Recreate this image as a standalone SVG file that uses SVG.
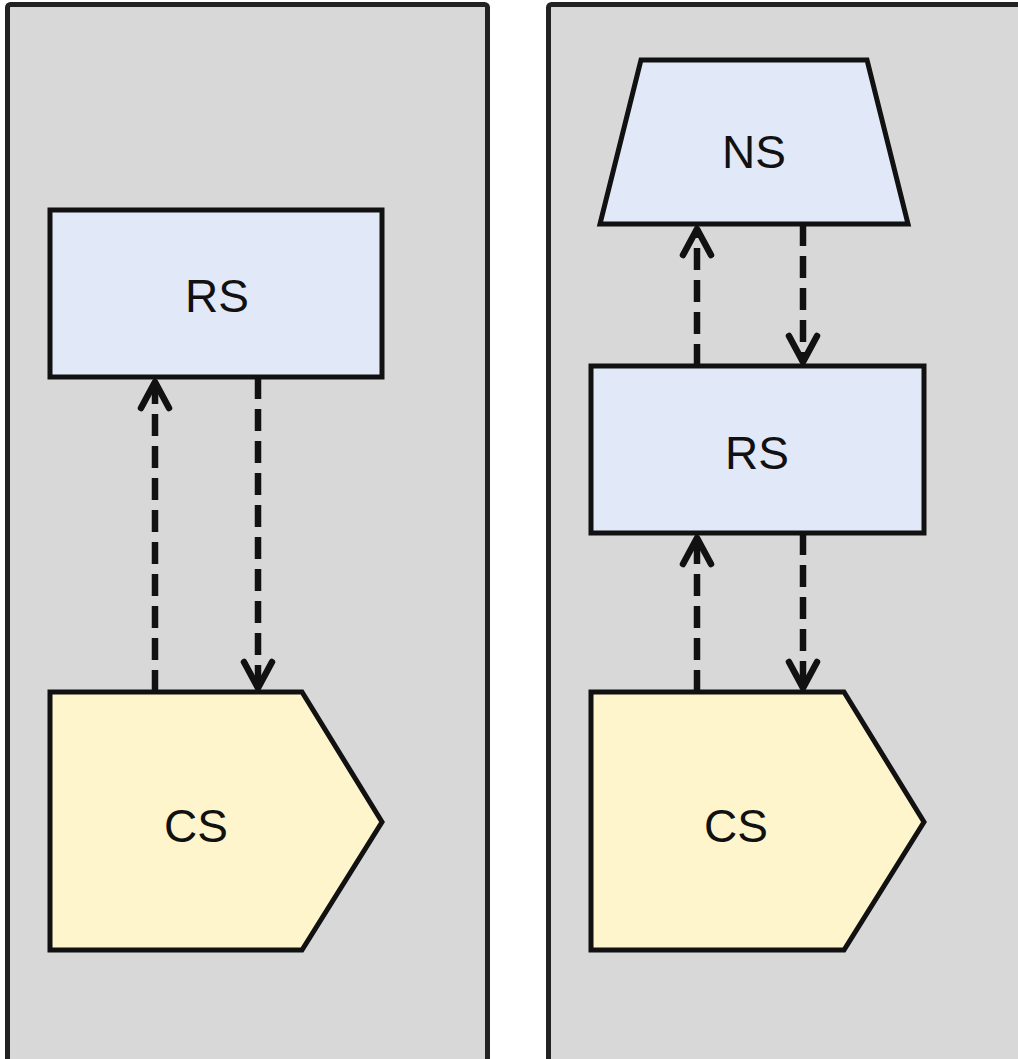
<svg xmlns="http://www.w3.org/2000/svg" width="1018" height="1059" viewBox="0 0 1018 1059">
<style>
.panel{fill:#d8d8d8;stroke:#222;stroke-width:5}
.blue{fill:#e1e8f8;stroke:#111;stroke-width:5;stroke-linejoin:miter}
.yellow{fill:#fef5cd;stroke:#111;stroke-width:5;stroke-linejoin:miter}
.lbl{font-family:"Liberation Sans",Arial,sans-serif;font-size:46px;fill:#111;text-anchor:middle}
.conn{stroke:#111;stroke-width:6.5;fill:none;stroke-dasharray:22 10}
.head{stroke:#111;stroke-width:6.5;fill:none;stroke-linecap:round;stroke-linejoin:round}
</style>
<rect width="1018" height="1059" fill="#ffffff"/>
<g id="panel-left"><rect class="panel" x="7.5" y="4.5" width="480" height="1080" rx="3"/></g>
<g id="panel-right"><rect class="panel" x="548.5" y="4.5" width="480" height="1080" rx="3"/></g>

<g id="connectors">
  <line class="conn" x1="155" y1="692" x2="155" y2="384"/>
  <polyline class="head" points="141,408 155,382 169,408"/>
  <line class="conn" x1="258" y1="377" x2="258" y2="686"/>
  <polyline class="head" points="244,662 258,688 272,662"/>

  <line class="conn" x1="697" y1="366" x2="697" y2="231"/>
  <polyline class="head" points="683,255 697,229 711,255"/>
  <line class="conn" x1="803" y1="224" x2="803" y2="360"/>
  <polyline class="head" points="789,336 803,362 817,336"/>

  <line class="conn" x1="697" y1="692" x2="697" y2="540"/>
  <polyline class="head" points="683,564 697,538 711,564"/>
  <line class="conn" x1="803" y1="533" x2="803" y2="686"/>
  <polyline class="head" points="789,662 803,688 817,662"/>
</g>

<g id="rs-left">
  <rect class="blue" x="50" y="210" width="332" height="167"/>
  <text class="lbl" x="217" y="312">RS</text>
</g>
<g id="cs-left">
  <polygon class="yellow" points="50,692 302,692 382,822 302,950 50,950"/>
  <text class="lbl" x="196" y="842">CS</text>
</g>
<g id="ns-right">
  <polygon class="blue" points="641,60 867,60 908,224 600,224"/>
  <text class="lbl" x="754" y="168">NS</text>
</g>
<g id="rs-right">
  <rect class="blue" x="591" y="366" width="333" height="167"/>
  <text class="lbl" x="757" y="469">RS</text>
</g>
<g id="cs-right">
  <polygon class="yellow" points="591,692 844,692 924,822 844,950 591,950"/>
  <text class="lbl" x="736" y="842">CS</text>
</g>
</svg>
